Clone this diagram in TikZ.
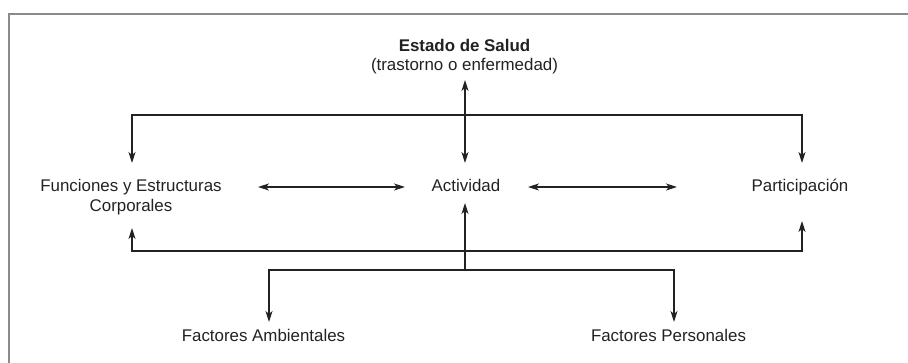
\documentclass[tikz,border=0pt]{standalone}
\usepackage{fontspec}
\setmainfont{Liberation Sans}
\usetikzlibrary{arrows.meta}
\definecolor{ink}{HTML}{222222}
\definecolor{framegray}{HTML}{8A8A8A}
\begin{document}
\begin{tikzpicture}[x=1pt,y=-1pt,
  >={Stealth[length=11pt,width=7pt,inset=3pt]},
  lbl/.style={font=\fontsize{16.9}{19.3}\selectfont, text=ink, inner sep=0pt, align=center},
  conn/.style={draw=ink, line width=1.1pt}]
\useasboundingbox (0,0) rectangle (908,363);
\begin{scope}
  \clip (0,0) rectangle (908,363);
  \draw[framegray, line width=1.5pt] (9,14) rectangle (940,400);
\end{scope}
% nodes
\node[lbl] (est) at (464.5,56.5) {\textbf{Estado de Salud}\\(trastorno o enfermedad)};
\node[lbl] (fun) at (131,197) {Funciones y Estructuras\\Corporales};
\node[lbl, anchor=base] (act) at (466,192) {Actividad};
\node[lbl, anchor=base] (par) at (800,192) {Participación};
\node[lbl, anchor=base] (amb) at (263.5,341.5) {Factores Ambientales};
\node[lbl, anchor=base] (per) at (668.5,341.5) {Factores Personales};
% connector ports
\coordinate (estBot) at (465,80);
\coordinate (actTop) at (465,163);
\coordinate (actBot) at (465,203);
\coordinate (actL) at (405,187);
\coordinate (actR) at (528,187);
\coordinate (funTop) at (132,163);
\coordinate (funBot) at (132,228);
\coordinate (funR) at (258,187);
\coordinate (parTop) at (802,163);
\coordinate (parBot) at (802,221);
\coordinate (parL) at (677,187);
\coordinate (busT) at (465,115);
\coordinate (busB) at (465,251);
\coordinate (fork) at (465,270);
\coordinate (ambTop) at (269,322);
\coordinate (perTop) at (674,322);
% connectors
\draw[conn,<->] (actTop) -- (estBot);
\draw[conn,<->] (funTop) |- (busT) -| (parTop);
\draw[conn,<->] (funBot) |- (busB) -| (parBot);
\draw[conn,->] (fork) -- (actBot);
\draw[conn,<->] (ambTop) |- (fork) -| (perTop);
\draw[conn,<->] (funR) -- (actL);
\draw[conn,<->] (actR) -- (parL);
\end{tikzpicture}
\end{document}
